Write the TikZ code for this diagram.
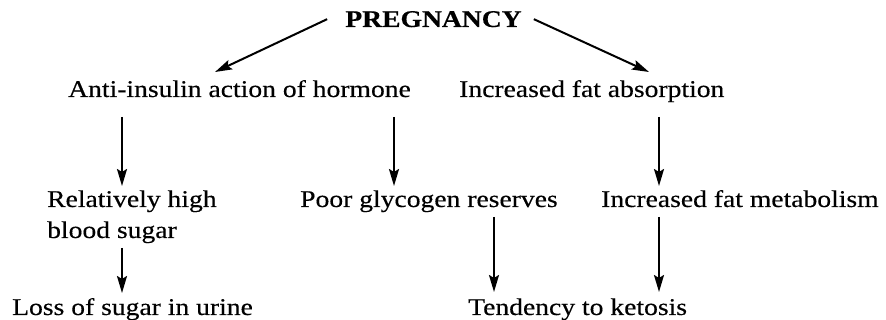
\documentclass[tikz,border=0pt]{standalone}
\usepackage{fontspec}
\setmainfont{Liberation Serif}[FakeStretch=1.15, FakeBold=0.35]
\usetikzlibrary{arrows.meta}
\begin{document}
\begin{tikzpicture}[x=1pt,y=-1pt,
  lbl/.style={inner sep=0pt, anchor=base west, font=\fontsize{24}{31}\selectfont},
  ttl/.style={inner sep=0pt, anchor=base, font=\fontsize{24}{31}\selectfont\bfseries},
  arr/.style={-{Stealth[length=17pt,width=10pt,inset=3pt]}, line width=2pt}]
\useasboundingbox (0,0) rectangle (886,320);
\node[ttl] (preg) at (433.5,27) {PREGNANCY};
\node[lbl] (anti) at (68,97) {Anti-insulin action of hormone};
\node[lbl] (ifa) at (459,97) {Increased fat absorption};
\node[lbl] (rel) at (47,207) {\begin{tabular}[t]{@{}l@{}}Relatively high\\blood sugar\end{tabular}};
\node[lbl] (pgr) at (300,207) {Poor glycogen reserves};
\node[lbl] (ifm) at (601,207) {Increased fat metabolism};
\node[lbl] (loss) at (12,315) {Loss of sugar in urine};
\node[lbl] (tend) at (468,315) {Tendency to ketosis};
\coordinate (c1) at (122,0);
\coordinate (c2) at (394,0);
\coordinate (c3) at (659,0);
\coordinate (c4) at (494,0);
\coordinate (tl) at (215,72);
\coordinate (tr) at (649,72);
\draw[arr] ([xshift=-18pt]preg.west) -- (tl);
\draw[arr] ([xshift=12pt]preg.east) -- (tr);
\draw[arr, shorten <=20pt, shorten >=21pt] (anti.base -| c1) -- (rel.base -| c1);
\draw[arr, shorten <=20pt, shorten >=21pt] (anti.base -| c2) -- (pgr.base -| c2);
\draw[arr, shorten <=20pt, shorten >=21pt] (ifa.base -| c3) -- (ifm.base -| c3);
\draw[arr, shorten <=41pt, shorten >=22pt] (rel.base -| c1) -- (loss.base -| c1);
\draw[arr, shorten <=10pt, shorten >=23pt] (pgr.base -| c4) -- (tend.base -| c4);
\draw[arr, shorten <=10pt, shorten >=23pt] (ifm.base -| c3) -- (tend.base -| c3);
\end{tikzpicture}
\end{document}
